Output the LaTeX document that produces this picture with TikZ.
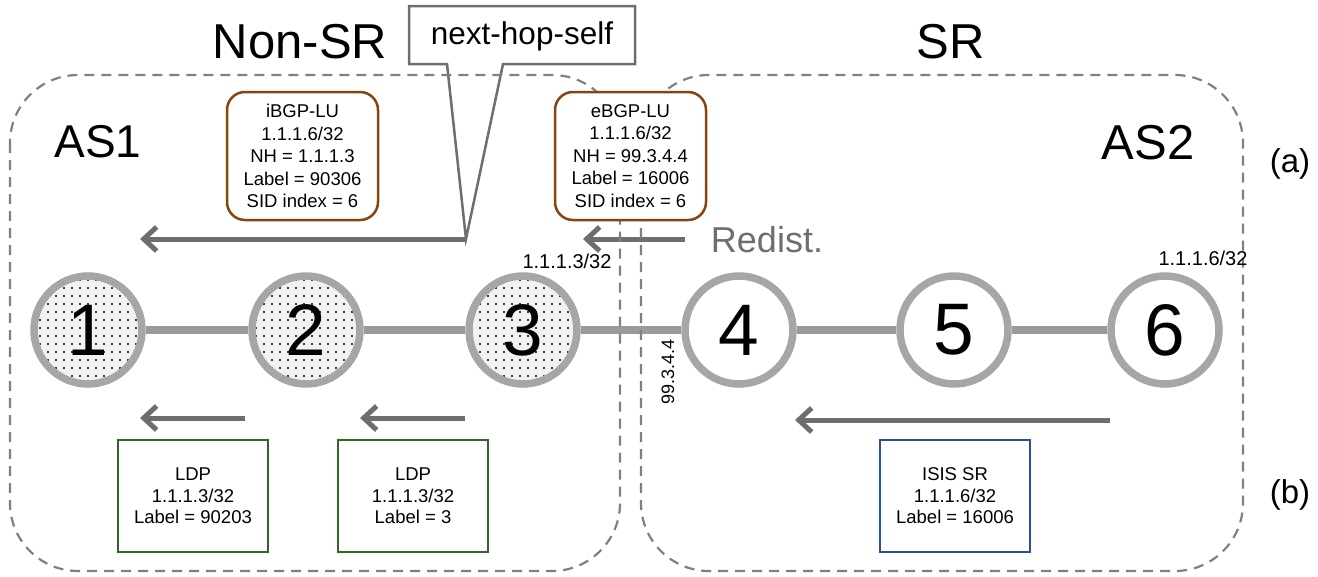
\documentclass[tikz,border=0pt]{standalone}
\usepackage{fontspec}
\setmainfont{Liberation Sans}
\usetikzlibrary{arrows.meta,patterns.meta,backgrounds}
\definecolor{arrgray}{HTML}{6E6E6E}
\definecolor{dashgray}{HTML}{808080}
\definecolor{ringgray}{HTML}{A6A6A6}
\definecolor{linkgray}{HTML}{9A9A9A}
\definecolor{bgpbrown}{HTML}{86450E}
\definecolor{ldpgreen}{HTML}{2E6B22}
\definecolor{isisblue}{HTML}{2C4E9E}
\tikzset{
  router/.style={circle, draw=ringgray, line width=7.5pt, minimum size=108pt, inner sep=0pt,
    fill=white, font=\fontsize{73}{73}\selectfont},
  nonsr/.style={router, preaction={fill=black!5}, pattern={Dots[distance=8pt,radius=1.05pt]}, pattern color=black},
  link/.style={draw=linkgray, line width=8pt},
  flow/.style={draw=arrgray, line width=5pt, -{Straight Barb[length=13pt,width=24pt]}},
  asbox/.style={draw=dashgray, line width=2.2pt, dash pattern=on 10pt off 7pt, rounded corners=68pt},
  bgpbox/.style={draw=bgpbrown, line width=2.5pt, rounded corners=18pt, fill=white,
    minimum width=151pt, minimum height=128pt, align=center, inner sep=0pt,
    font=\fontsize{18.5}{22.5}\selectfont},
  ldpbox/.style={draw=ldpgreen, line width=2.2pt, fill=white,
    minimum width=150pt, minimum height=112pt, align=center, inner sep=0pt,
    font=\fontsize{18.5}{21.5}\selectfont},
  isisbox/.style={ldpbox, draw=isisblue},
  small/.style={font=\fontsize{20}{20}\selectfont, inner sep=0pt},
  big/.style={font=\fontsize{49}{49}\selectfont, inner sep=0pt},
  tag/.style={font=\fontsize{33}{33}\selectfont, inner sep=0pt},
}
\begin{document}
\begin{tikzpicture}[x=1pt,y=-1pt]
\useasboundingbox (0,0) rectangle (1318,576);

% titles
\node[big] (nonsr) at (300,42) {Non-SR};
\node[big] (sr) at (951,42) {SR};
\node[big, font=\fontsize{46}{46}\selectfont] (as1) at (98,142) {AS1};
\node[big] (as2) at (1148,143) {AS2};
\node[tag] (ta) at (1290,164) {(a)};
\node[tag] (tb) at (1290,495) {(b)};

% routers
\node[nonsr] (n1) at (88,330) {1};
\node[nonsr] (n2) at (306,330) {2};
\node[nonsr] (n3) at (523,330) {3};
\node[router] (n4) at (739,330) {4};
\node[router] (n5) at (954,330) {5};
\node[router] (n6) at (1165,330) {6};

% small labels
\node[small] (p3) at (567,261) {1.1.1.3/32};
\node[small] (p6) at (1203,258) {1.1.1.6/32};
\node[small, font=\fontsize{18}{18}\selectfont, rotate=90] (nh4) at (668,372) {99.3.4.4};
\node[font=\fontsize{36}{36}\selectfont, text=arrgray, inner sep=0pt] (redist) at (767,240) {Redist.};

% info boxes
\node[bgpbox] (ibgp) at (302.5,156) {iBGP-LU\\1.1.1.6/32\\NH = 1.1.1.3\\Label = 90306\\SID index = 6};
\node[bgpbox] (ebgp) at (630.5,156) {eBGP-LU\\1.1.1.6/32\\NH = 99.3.4.4\\Label = 16006\\SID index = 6};
\node[ldpbox] (ldp1) at (193,496) {LDP\\1.1.1.3/32\\Label = 90203};
\node[ldpbox] (ldp2) at (413,496) {LDP\\1.1.1.3/32\\Label = 3};
\node[isisbox] (isis) at (955,496) {ISIS SR\\1.1.1.6/32\\Label = 16006};

% arrow end points
\coordinate (ibS) at (466,239);
\coordinate (ibE) at (140,239);
\coordinate (ebS) at (685,239);
\coordinate (ebE) at (583,239);
\coordinate (l1S) at (245,418);
\coordinate (l1E) at (140,418);
\coordinate (l2S) at (465,418);
\coordinate (l2E) at (360,418);
\coordinate (isS) at (1110,420);
\coordinate (isE) at (795,420);

\node[font=\fontsize{31.5}{31.5}\selectfont, inner sep=0pt] (nhs) at (522,36) {next-hop-self};

\begin{scope}[on background layer]
  \draw[link] (n1) -- (n2);
  \draw[link] (n2) -- (n3);
  \draw[link] (n3) -- (n4);
  \draw[link] (n4) -- (n5);
  \draw[link] (n5) -- (n6);
  \draw[flow] (ibS) -- (ibE);
  \draw[flow] (ebS) -- (ebE);
  \draw[flow] (l1S) -- (l1E);
  \draw[flow] (l2S) -- (l2E);
  \draw[flow] (isS) -- (isE);
  \draw[draw=arrgray, line width=2.5pt, fill=white, line join=miter]
    (409,6) -- (635,6) -- (635,64) -- (503,64) -- (ibS) -- (447,64) -- (409,64) -- cycle;
  \draw[asbox] (10,75) rectangle (620,571);
  \draw[asbox] (641,75) rectangle (1243,571);
\end{scope}
\end{tikzpicture}
\end{document}
